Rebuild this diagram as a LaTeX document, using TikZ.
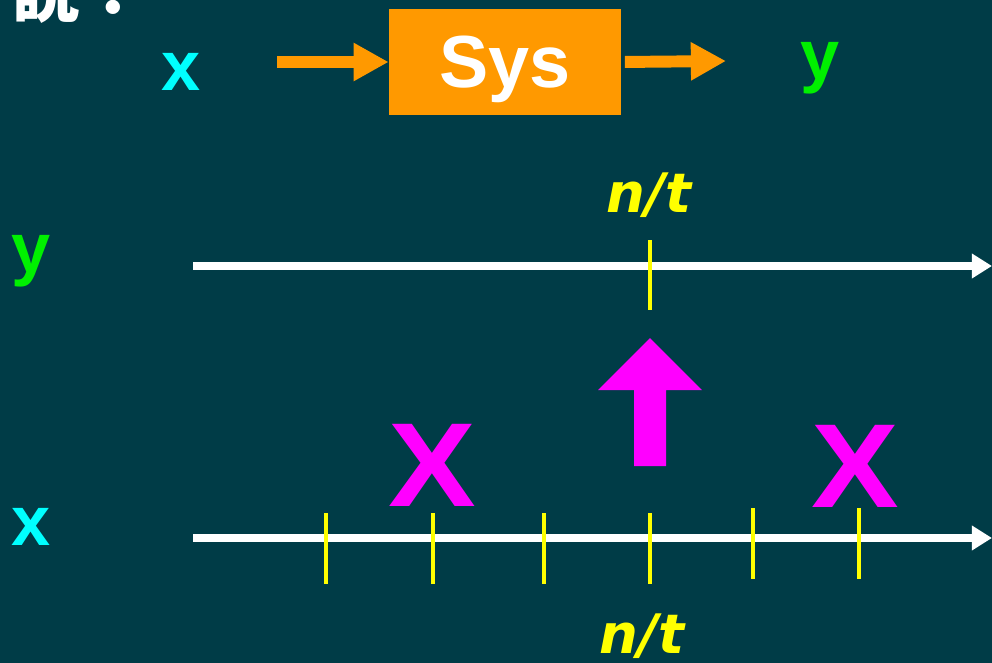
\documentclass[tikz,border=0pt]{standalone}
\usepackage{fontspec}
\setsansfont{Liberation Sans}
\newfontfamily\cjkfont{Noto Sans CJK TC}
\newfontfamily\ntfont{DejaVu Sans}
\usepackage{xcolor}
\usetikzlibrary{arrows.meta,positioning}

\definecolor{bgteal}{RGB}{0,60,71}
\definecolor{sysorange}{RGB}{255,153,0}
\definecolor{sigcyan}{RGB}{0,255,255}
\definecolor{siggreen}{RGB}{0,240,0}
\definecolor{tickyellow}{RGB}{255,255,0}
\definecolor{crossmag}{RGB}{255,0,255}

\tikzset{
  sig/.style={inner sep=0pt, anchor=base, font=\sffamily\bfseries\fontsize{40}{40}\selectfont},
  ntlabel/.style={inner sep=0pt, anchor=base, text=tickyellow, font=\ntfont\bfseries\itshape\fontsize{31}{31}\selectfont},
  crossmark/.style={inner sep=0pt, anchor=base, xscale=1.1, text=crossmag, font=\sffamily\bfseries\fontsize{68}{68}\selectfont},
  sysbox/.style={fill=sysorange, text=white, minimum width=4.64cm, minimum height=2.12cm, text depth=0pt, inner sep=0pt, font=\sffamily\bfseries\fontsize{42}{42}\selectfont},
  flow/.style={sysorange, line width=6.8pt, -{Triangle[length=20pt, width=20.5pt]}},
  timeaxis/.style={white, line width=4.5pt, -{Triangle[length=11.5pt, width=13.5pt]}},
  tick/.style={tickyellow, line width=2.1pt}
}

\begin{document}
\begin{tikzpicture}[x=0.02cm, y=-0.02cm, line join=round]
	\fill[bgteal] (0,0) rectangle (992,663);
	\useasboundingbox (0,0) rectangle (992,663);
	
	\node[anchor=base west, inner sep=0pt, text=white, font=\cjkfont\bfseries\fontsize{38.5}{40}\selectfont] (title) at (12,16) {說：};
	
	% system block
	\node[sig, text=sigcyan] (xin) at (181,90) {x};
	\node[sysbox] (sys) at (505,62) {Sys};
	\node[sig, text=siggreen] (yout) at (820,79) {y};
	\coordinate (xtail) at (277,62);
	\coordinate (ytip) at (726,61);
	\draw[flow] (xtail) -- (sys.west);
	\draw[flow, shorten <=2pt] (sys.east) -- (ytip);
	
	% output axis
	\node[sig, text=siggreen] (ylab) at (31,272) {y};
	\draw[timeaxis] (193,266) -- (992,266);
	\draw[tick] (650,240) -- (650,310);
	\node[ntlabel] (ntop) at (649,212) {n/t};
	
	\fill[crossmag] (634,466) -- (634,390) -- (598,390) -- (650,338) -- (702,390) -- (666,390) -- (666,466) -- cycle;
	
	% input axis
	\node[sig, text=sigcyan] (xlab) at (31,545) {x};
	\draw[timeaxis] (193,538) -- (992,538);
	\foreach \tx/\ta/\tb in {326/513/584, 433/513/584, 544/513/584, 650/513/584, 753/508/579, 859/508/579}
		\draw[tick] (\tx,\ta) -- (\tx,\tb);
	\node[crossmark] (crossa) at (432,506) {X};
	\node[crossmark] (crossb) at (855,507) {X};
	\node[ntlabel] (nbot) at (642,653) {n/t};
\end{tikzpicture}
\end{document}
